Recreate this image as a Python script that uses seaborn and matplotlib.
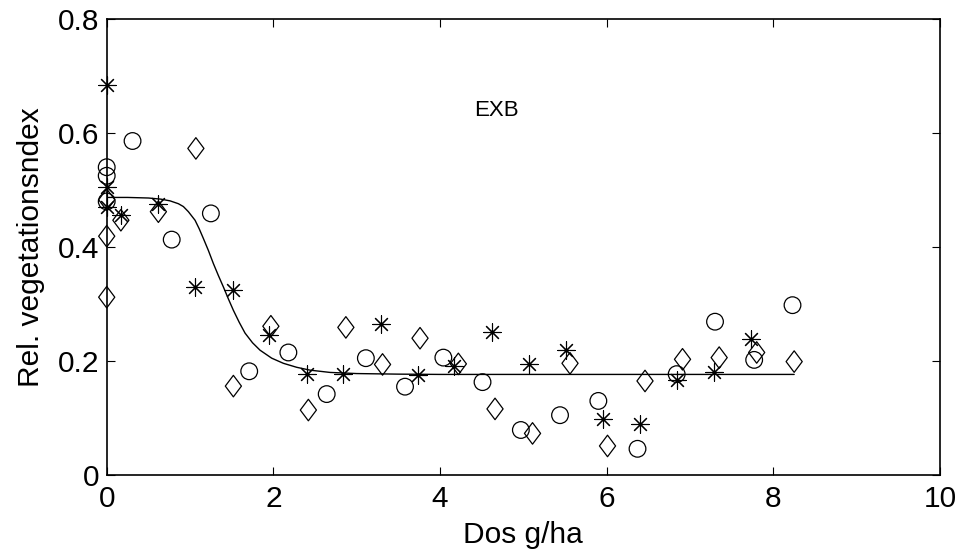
import numpy as np
import pandas as pd
import matplotlib
matplotlib.use("Agg")
import matplotlib.pyplot as plt
import seaborn as sns
from matplotlib.path import Path
from matplotlib.ticker import FuncFormatter

# ---------------- data ----------------
circle_x = [0, 0, 0, 0.31, 0.78, 1.25, 1.71, 2.18, 2.64, 3.11, 3.58, 4.04,
            4.51, 4.97, 5.44, 5.90, 6.37, 6.84, 7.30, 7.77, 8.23]
circle_y = [0.540, 0.525, 0.480, 0.586, 0.413, 0.459, 0.182, 0.215, 0.142,
            0.205, 0.155, 0.206, 0.163, 0.079, 0.105, 0.130, 0.046, 0.177,
            0.269, 0.202, 0.298]

star_x = [0, 0, 0, 0.17, 0.62, 1.06, 1.51, 1.95, 2.40, 2.84, 3.29, 3.73,
          4.17, 4.62, 5.07, 5.51, 5.95, 6.40, 6.84, 7.29, 7.73]
star_y = [0.684, 0.506, 0.471, 0.456, 0.475, 0.330, 0.325, 0.246, 0.177,
          0.177, 0.265, 0.175, 0.192, 0.251, 0.195, 0.219, 0.098, 0.089,
          0.167, 0.180, 0.239]

diamond_x = [0, 0, 0, 0.17, 0.62, 1.07, 1.52, 1.97, 2.42, 2.87, 3.31, 3.76,
             4.22, 4.66, 5.11, 5.56, 6.01, 6.46, 6.91, 7.35, 7.80, 8.25]
diamond_y = [0.483, 0.419, 0.312, 0.447, 0.462, 0.573, 0.156, 0.261, 0.114,
             0.259, 0.194, 0.240, 0.195, 0.116, 0.073, 0.196, 0.051, 0.165,
             0.203, 0.206, 0.215, 0.199]

# fitted curve, points
curve_x = [0.0, 0.25, 0.50, 0.65, 0.76, 0.86, 0.92, 0.98, 1.06, 1.11, 1.16,
           1.22, 1.28, 1.34, 1.40, 1.46, 1.52, 1.59, 1.66, 1.75, 1.84, 1.98,
           2.12, 2.28, 2.44, 2.68, 3.00, 3.50, 4.00, 8.25]
curve_y = [0.487, 0.487, 0.486, 0.484, 0.481, 0.476, 0.471, 0.462, 0.447,
           0.432, 0.415, 0.394, 0.371, 0.350, 0.330, 0.309, 0.289, 0.268,
           0.249, 0.232, 0.219, 0.205, 0.196, 0.189, 0.184, 0.180, 0.178,
           0.177, 0.1765, 0.1765]

x_ticks = [0, 2, 4, 6, 8, 10]
y_ticks = [0, 0.2, 0.4, 0.6, 0.8]
x_label = "Dos g/ha"
y_label = "Rel. vegetationsndex"
annotation = "EXB"

# ---------------- styling ----------------
sns.set_theme(style="white")
plt.rcParams['font.family'] = ['Liberation Sans', 'DejaVu Sans']
FS = 21.5

fig = plt.figure(figsize=(9.64, 5.58), dpi=100)
ax = fig.add_axes([0.1107, 0.1487, 0.8644, 0.8172])

diamond_marker = Path([(-0.75, 0), (0, 1), (0.75, 0), (0, -1), (-0.75, 0)],
                      [Path.MOVETO, Path.LINETO, Path.LINETO, Path.LINETO,
                       Path.CLOSEPOLY])

sns.lineplot(x=curve_x, y=curve_y, ax=ax, color="black", linewidth=1.0,
             sort=False, estimator=None)

sns.scatterplot(x=circle_x, y=circle_y, ax=ax, marker="o", s=12**2,
                facecolor="none", edgecolor="black", linewidth=0.9,
                zorder=3, clip_on=False)
sns.scatterplot(x=diamond_x, y=diamond_y, ax=ax, marker=diamond_marker,
                s=15.5**2, facecolor="none", edgecolor="black",
                linewidth=0.9, zorder=3, clip_on=False)
sns.scatterplot(x=star_x, y=star_y, ax=ax, marker=(8, 2, 0), s=12.5**2,
                color="black", linewidth=0.8, zorder=3, clip_on=False)

ax.text(4.68, 0.64, annotation, ha="center", va="center", fontsize=16,
        color="black")

ax.set_xlim(0, 10)
ax.set_ylim(0, 0.8)
ax.set_xticks(x_ticks)
ax.set_yticks(y_ticks)
ax.xaxis.set_major_formatter(FuncFormatter(lambda v, p: f"{v:g}"))
ax.yaxis.set_major_formatter(FuncFormatter(lambda v, p: f"{v:g}"))
ax.tick_params(axis="both", which="both", direction="in", length=5.5,
               width=0.8, colors="black", labelsize=FS,
               top=True, right=True, bottom=True, left=True)
ax.tick_params(axis="x", pad=7)
ax.tick_params(axis="y", pad=5.5)
for s in ax.spines.values():
    s.set_visible(True)
    s.set_color("black")
    s.set_linewidth(1.2)

ax.set_xlabel(x_label, fontsize=FS, labelpad=6, color="black")
ax.set_ylabel(y_label, fontsize=FS, labelpad=9, color="black")
ax.grid(False)
ax.set_facecolor("white")
fig.patch.set_facecolor("white")

fig.savefig("out.png", dpi=100)
